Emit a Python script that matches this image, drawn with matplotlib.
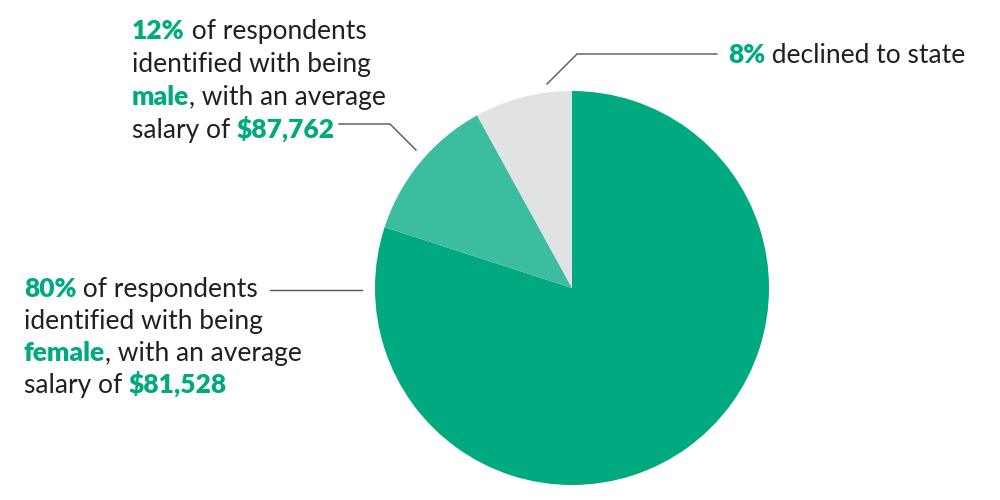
import matplotlib
matplotlib.use("Agg")
import matplotlib.pyplot as plt

categories = ["female", "male", "declined"]
shares = [80, 12, 8]
salaries = ["$81,528", "$87,762", None]
colors = ["#00A97F", "#3DBDA0", "#E1E2E4"]

GREEN = "#00A97F"
DARK = "#231F20"
FONT = "Lato"
FS = 19

fig = plt.figure(figsize=(10, 5), dpi=100)
ax = fig.add_axes([0, 0, 1, 1])

# pie (y axis inverted -> counterclock=True gives clockwise visually)
ax.pie(shares, colors=colors, startangle=-90, counterclock=True,
       center=(572, 288), radius=197, wedgeprops=dict(linewidth=0),
       frame=True)
ax.set_xlim(0, 1000)
ax.set_ylim(500, 0)
ax.set_aspect("equal")
ax.axis("off")

renderer = fig.canvas.get_renderer()


def rich_line(x, y, segs):
    for txt, bold in segs:
        t = ax.text(x, y, txt, fontsize=FS, family=FONT,
                    fontweight="heavy" if bold else "normal",
                    color=GREEN if bold else DARK, va="baseline", ha="left")
        bb = t.get_window_extent(renderer=renderer)
        x += bb.width  # 1 data unit == 1 pixel


male_lines = [
    [(f"{shares[1]}%", True), (" of respondents", False)],
    [("identified with being", False)],
    [(categories[1], True), (", with an average", False)],
    [("salary of ", False), (salaries[1], True)],
]
for i, segs in enumerate(male_lines):
    rich_line(132, 39 + i * 33, segs)

female_lines = [
    [(f"{shares[0]}%", True), (" of respondents", False)],
    [("identified with being", False)],
    [(categories[0], True), (", with an average", False)],
    [("salary of ", False), (salaries[0], True)],
]
for i, segs in enumerate(female_lines):
    rich_line(24, 297 + i * 32, segs)

rich_line(728, 63, [(f"{shares[2]}%", True), (" declined to state", False)])

lc = "#555555"
ax.plot([547, 577, 717], [84, 54, 54], color=lc, lw=1)
ax.plot([339, 390, 416], [124, 124, 150], color=lc, lw=1)
ax.plot([270, 362], [290, 290], color=lc, lw=1)

fig.savefig("out.png", dpi=100)
